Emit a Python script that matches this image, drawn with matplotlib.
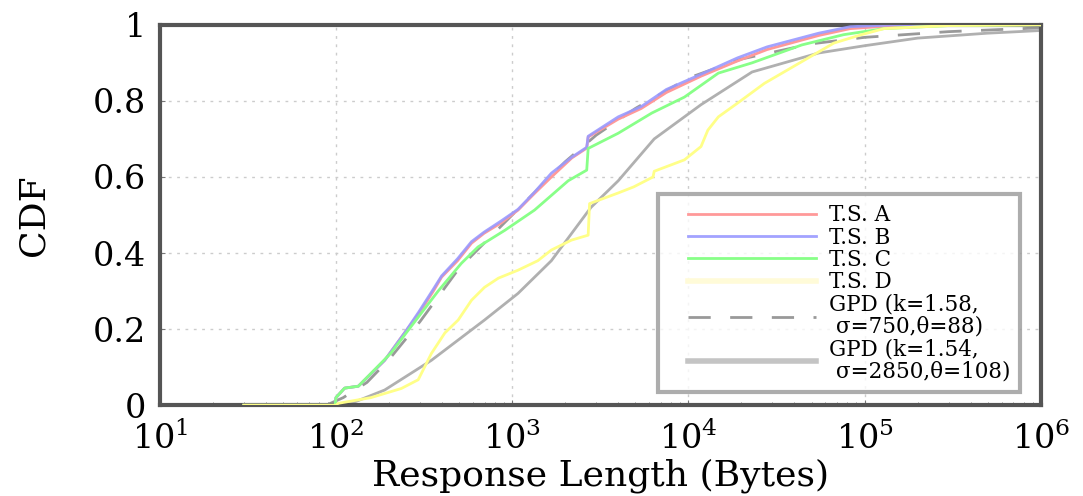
import numpy as np
import matplotlib
matplotlib.use("Agg")
import matplotlib.pyplot as plt
from matplotlib.legend_handler import HandlerLine2D

plt.rcParams['font.family'] = ['DejaVu Serif']
plt.rcParams['mathtext.fontset'] = 'dejavuserif'

# ---- data (x in bytes, y = CDF) ----
tsa_x = [30, 99, 100, 112, 134, 189, 245, 295, 357, 398, 490, 588, 693, 870, 1080, 1340,
         1670, 2180, 2650, 2700, 4000, 5400, 7500, 11800, 19000, 28000, 55000, 83000, 150000, 1000000]
tsa_y = [0.0, 0.0, 0.02, 0.045, 0.05, 0.118, 0.19, 0.24, 0.30, 0.337, 0.38, 0.426, 0.452, 0.48, 0.513, 0.557,
         0.60, 0.65, 0.676, 0.705, 0.752, 0.78, 0.822, 0.865, 0.905, 0.935, 0.972, 0.99, 0.998, 1.0]

tsb_x = [30, 99, 100, 112, 134, 189, 245, 295, 357, 398, 490, 588, 693, 870, 1080, 1340,
         1670, 2180, 2650, 2700, 4000, 5400, 7500, 11800, 19000, 28000, 55000, 83000, 150000, 1000000]
tsb_y = [0.0, 0.0, 0.02, 0.045, 0.05, 0.118, 0.19, 0.245, 0.305, 0.34, 0.385, 0.43, 0.455, 0.485, 0.515, 0.56,
         0.61, 0.652, 0.678, 0.707, 0.758, 0.785, 0.83, 0.87, 0.913, 0.942, 0.978, 0.995, 1.0, 1.0]

tsc_x = [30, 99, 100, 112, 134, 205, 260, 380, 515, 640, 910, 1340, 2080, 2650, 2700, 4000,
         6200, 9500, 14800, 23000, 44000, 76000, 129000, 300000, 1000000]
tsc_y = [0.0, 0.0, 0.02, 0.045, 0.05, 0.137, 0.20, 0.30, 0.373, 0.416, 0.46, 0.513, 0.59, 0.618, 0.675, 0.715,
         0.768, 0.81, 0.873, 0.90, 0.947, 0.974, 0.99, 0.998, 1.0]

tsd_x = [30, 100, 103, 158, 235, 293, 348, 415, 494, 588, 697, 835, 1080, 1400, 1670, 2170, 2700, 2750,
         4000, 4900, 6300, 6400, 9500, 11800, 12900, 14800, 19000, 27000, 44000, 67000, 96000, 129000,
         300000, 1000000]
tsd_y = [0.0, 0.0, 0.005, 0.02, 0.044, 0.067, 0.136, 0.19, 0.224, 0.276, 0.31, 0.334, 0.355, 0.38, 0.408,
         0.434, 0.447, 0.53, 0.558, 0.574, 0.60, 0.615, 0.645, 0.68, 0.723, 0.758, 0.794, 0.846, 0.903,
         0.952, 0.974, 0.99, 0.998, 1.0]

gpd1_x = [88, 110, 150, 200, 300, 500, 1000, 2000, 3000, 5000, 10000, 20000, 50000, 100000, 300000, 1000000]
gpd1_y = [0.0, 0.02, 0.06, 0.12, 0.22, 0.36, 0.50, 0.64, 0.71, 0.78, 0.86, 0.91, 0.95, 0.967, 0.982, 0.992]

gpd2_x = [108, 130, 189, 348, 697, 1080, 1670, 2800, 4000, 6400, 11800, 23000, 55000, 100000, 200000,
          500000, 1000000]
gpd2_y = [0.0, 0.01, 0.04, 0.118, 0.224, 0.294, 0.38, 0.52, 0.59, 0.70, 0.79, 0.876, 0.926, 0.945, 0.965,
          0.978, 0.985]

labels = ['T.S. A', 'T.S. B', 'T.S. C', 'T.S. D',
          'GPD (k=1.58,\n σ=750,θ=88)', 'GPD (k=1.54,\n σ=2850,θ=108)']

fig = plt.figure(figsize=(10.83, 4.96), dpi=100)
ax = fig.add_axes([0.1475, 0.183, 0.8135, 0.767])

ax.plot(gpd1_x, gpd1_y, color='#999999', lw=2, ls=(0, (8, 7)), label=labels[4], zorder=2)
ax.plot(gpd2_x, gpd2_y, color='#b0b0b0', lw=2, label=labels[5], zorder=2)
ax.plot(tsa_x, tsa_y, color='#ff9999', lw=2, label=labels[0], zorder=3)
ax.plot(tsb_x, tsb_y, color='#9999ff', lw=2, label=labels[1], zorder=3, alpha=0.9)
ax.plot(tsc_x, tsc_y, color='#88ff88', lw=2, label=labels[2], zorder=3)
ax.plot(tsd_x, tsd_y, color='#ffff88', lw=2, label=labels[3], zorder=3)

ax.set_xscale('log')
ax.set_xlim(10, 1e6)
ax.set_ylim(0, 1)
ax.set_yticks([0, 0.2, 0.4, 0.6, 0.8, 1])
ax.set_yticklabels(['0', '0.2', '0.4', '0.6', '0.8', '1'])
ax.grid(True, which='major', color='#cccccc', ls=(0, (2, 4)), lw=1)
ax.tick_params(which='both', direction='in', colors='#777777', labelcolor='black', labelsize=24)
ax.tick_params(axis='x', pad=12)
ax.tick_params(axis='y', pad=10)
for s in ax.spines.values():
    s.set_color('#555555')
    s.set_linewidth(3)

ax.set_xlabel('Response Length (Bytes)', fontsize=26, labelpad=2)
ax.set_ylabel('CDF', fontsize=26, labelpad=30)

h, l = ax.get_legend_handles_labels()
order = [2, 3, 4, 5, 0, 1]
leg = ax.legend([h[i] for i in order], [l[i] for i in order], loc='lower right',
                bbox_to_anchor=(0.977, 0.035), fontsize=15.5, frameon=True, fancybox=False,
                handlelength=6.9, labelspacing=0.02, borderpad=0.45, borderaxespad=0,
                handletextpad=0.6, handler_map={type(h[0]): HandlerLine2D(xpad=0.95)})
for t in leg.get_texts():
    t.set_linespacing(1.0)
leg.get_frame().set_edgecolor('#999999')
leg.get_frame().set_linewidth(3)
leg.legend_handles[3].set_color('#fffbd8')
leg.legend_handles[3].set_linewidth(4)
leg.legend_handles[5].set_color('#c4c4c4')
leg.legend_handles[5].set_linewidth(4)

fig.savefig('out.png', dpi=100)
